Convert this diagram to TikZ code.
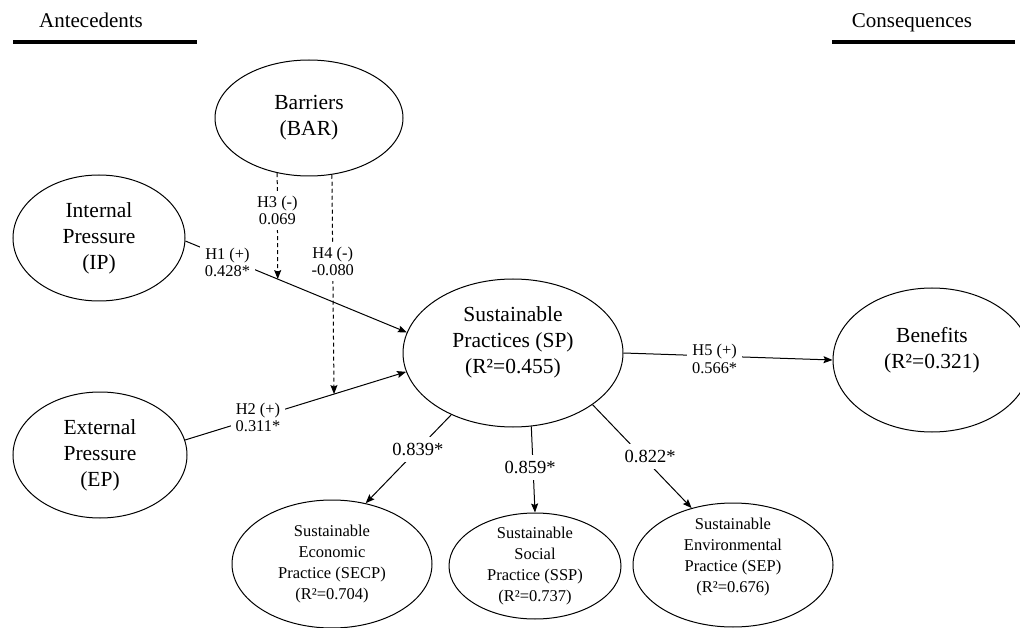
\documentclass[tikz,border=0pt]{standalone}
\usepackage{fontspec}
\setmainfont{Liberation Serif}
\usetikzlibrary{shapes.geometric,arrows.meta}
\begin{document}
\begin{tikzpicture}[x=1pt,y=-1pt,
  lat/.style={draw, ellipse, line width=1pt, inner sep=0pt, align=center,
    font=\fontsize{21.5}{26}\selectfont},
  latsm/.style={draw, ellipse, line width=1pt, inner sep=-6pt, align=center,
    font=\fontsize{16.5}{21}\selectfont},
  conn/.style={line width=1pt, -{Stealth[length=9pt,width=7pt,inset=1.5pt]}},
  modr/.style={line width=1pt, dash pattern=on 4pt off 3pt,
    -{Stealth[length=9pt,width=7pt,inset=1.5pt]}},
  hlbl/.style={fill=white, inner sep=5pt, align=center,
    font=\fontsize{16.4}{17.5}\selectfont},
  llbl/.style={fill=white, inner sep=6pt, font=\fontsize{18.5}{20}\selectfont},
  hdr/.style={font=\fontsize{21}{24}\selectfont, inner sep=0pt, anchor=base},
  hrule/.style={line width=3.5pt}
]
\useasboundingbox (0,0) rectangle (1020,628);
\clip (0,0) rectangle (1020,628);

% headers
\node[hdr] (ant) at (91,28) {Antecedents};
\node[hdr] (cons) at (912,28) {Consequences};
\draw[hrule] (13,42) -- (197,42);
\draw[hrule] (832,42) -- (1015,42);

% constructs
\node[lat, minimum width=188pt, minimum height=116pt] (bar) at (309,118) {Barriers\\(BAR)};
\node[lat, minimum width=172pt, minimum height=126pt] (ip) at (99,238) {Internal\\Pressure\\(IP)};
\node[lat, minimum width=174pt, minimum height=126pt] (ep) at (100,455) {External\\Pressure\\(EP)};
\node[lat, minimum width=220pt, minimum height=148pt, text depth=25pt] (sp) at (513,353)
  {Sustainable\\Practices (SP)\\(R²=0.455)};
\node[lat, minimum width=198pt, minimum height=144pt, text depth=25pt] (ben) at (932,360)
  {Benefits\\(R²=0.321)};
\node[latsm, minimum width=200pt, minimum height=128pt] (secp) at (332,564)
  {Sustainable\\Economic\\Practice (SECP)\\(R²=0.704)};
\node[latsm, minimum width=172pt, minimum height=106pt] (ssp) at (535,566)
  {Sustainable\\Social\\Practice (SSP)\\(R²=0.737)};
\node[latsm, minimum width=200pt, minimum height=124pt, text depth=20pt] (sep) at (733,565)
  {Sustainable\\Environmental\\Practice (SEP)\\(R²=0.676)};

% structural paths
\draw[conn] (ip.-2) -- node[hlbl, pos=0.19, yshift=-4pt] (h1) {H1 (+)\\0.428*}
  coordinate[pos=0.417] (h3end) (sp.169);
\draw[conn] (ep.10) -- node[hlbl, pos=0.33] (h2) {H2 (+)\\0.311*}
  coordinate[pos=0.674] (h4end) (sp.190);
\draw[conn] (sp.east) -- node[hlbl, pos=0.436, yshift=-3pt] (h5) {H5 (+)\\0.566*} (ben.west);

% moderating effects
\draw[modr] (bar.240.6) -- node[hlbl, pos=0.35] (h3) {H3 (-)\\0.069} (h3end);
\draw[modr] (bar.-68) -- node[hlbl, pos=0.395] (h4) {H4 (-)\\-0.080} (h4end);

% second-order loadings
\draw[conn] (sp.225) -- node[llbl, pos=0.39] (l1) {0.839*} (secp.61);
\draw[conn] (sp.-76) -- node[llbl, pos=0.48, xshift=-3pt] (l2) {0.859*} (ssp.north);
\draw[conn] (sp.-33) -- node[llbl, pos=0.5, xshift=8pt] (l3) {0.822*} (sep.126);
\end{tikzpicture}
\end{document}
